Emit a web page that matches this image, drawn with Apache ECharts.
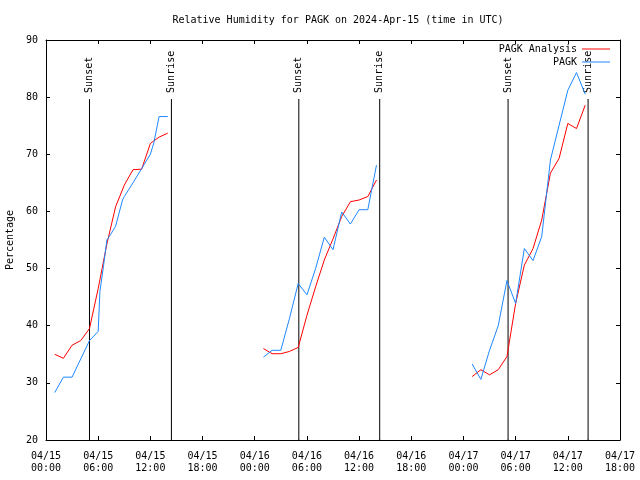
<!DOCTYPE html>
<html>
<head>
<meta charset="utf-8">
<script src="https://cdn.jsdelivr.net/npm/echarts@6/dist/echarts.min.js"></script>
<style>html,body{margin:0;padding:0;background:#fff}#c{width:640px;height:480px}</style>
</head>
<body>
<div id="c"></div>
<script>
// Hours since 04/15 00:00 UTC
const xTickLabels = ['04/15\n00:00','04/15\n06:00','04/15\n12:00','04/15\n18:00','04/16\n00:00','04/16\n06:00','04/16\n12:00','04/16\n18:00','04/17\n00:00','04/17\n06:00','04/17\n12:00','04/17\n18:00'];

// PAGK Analysis (red), hourly
const anaHours1 = [1,2,3,4,5,6,7,8,9,10,11,12,13,14];
const anaValues1 = [35.0,34.3,36.6,37.4,39.5,46.5,54.3,60.8,64.6,67.3,67.4,71.9,73.0,73.7];
const anaHours2 = [25,26,27,28,29,30,31,32,33,34,35,36,37,38];
const anaValues2 = [36.0,35.1,35.1,35.5,36.2,41.8,46.8,51.5,55.2,59.1,61.7,62.0,62.6,65.5];
const anaHours3 = [49,50,51,52,53,54,55,56,57,58,59,60,61,62];
const anaValues3 = [31.1,32.3,31.4,32.3,34.6,43.9,50.6,53.5,58.5,66.7,69.3,75.4,74.5,78.6];

// PAGK observations (blue)
const obsHours1 = [1,2,3,4,5,6,6.2,6.6,7,7.4,8,8.8,9,10,11,12,12.4,13,14];
const obsValues1 = [28.3,31.0,31.0,34.2,37.4,39.0,46.0,50.3,55.0,55.9,57.4,62.0,62.6,65.0,67.5,70.0,72.0,76.6,76.6];
const obsHours2 = [25,26,27,28,29,30,31,32,33,34,35,36,37,38];
const obsValues2 = [34.5,35.7,35.7,41.3,47.4,45.4,50.0,55.5,53.3,59.9,57.8,60.3,60.3,68.1];
const obsHours3 = [49,50,51,52,53,54,55,56,57,58,59,60,61,62];
const obsValues3 = [33.3,30.6,35.7,40.0,47.9,43.9,53.5,51.4,55.6,69.0,75.1,81.2,84.3,80.5];

// Sun events
const sunsetHours = [5.0,29.07,53.13];
const sunriseHours = [14.42,38.37,62.33];
const sunLineBottom = 20;
const sunLineTop = 79.6;

function pairs(hs, vs){ return hs.map((h,i)=>[h, vs[i]]); }
function joinSegs(segs){
  const out = [];
  segs.forEach((s,i)=>{ if(i>0) out.push(['-','-']); s.forEach(p=>out.push(p)); });
  return out;
}
const anaData = joinSegs([pairs(anaHours1,anaValues1),pairs(anaHours2,anaValues2),pairs(anaHours3,anaValues3)]);
const obsData = joinSegs([pairs(obsHours1,obsValues1),pairs(obsHours2,obsValues2),pairs(obsHours3,obsValues3)]);

const sunData = [];
const events = [];
sunsetHours.forEach(h=>events.push([h,'Sunset']));
sunriseHours.forEach(h=>events.push([h,'Sunrise']));
events.sort((a,b)=>a[0]-b[0]);
events.forEach((e,i)=>{
  if(i>0) sunData.push({value:['-','-']});
  sunData.push({value:[e[0], sunLineBottom], label:{show:false}});
  sunData.push({value:[e[0], sunLineTop], label:{show:true, formatter:e[1]}});
});

const font = 'DejaVu Sans Mono';
const chart = echarts.init(document.getElementById('c'), null, {renderer:'canvas'});
const axisCommon = {
  axisLine:{show:true, onZero:false, lineStyle:{color:'#000', width:1}},
  axisTick:{show:true, inside:true, length:4, lineStyle:{color:'#000'}},
  splitLine:{show:false}
};
const legendCommon = {padding:0, align:'right', itemWidth:28, itemHeight:1, icon:'rect',
  textStyle:{fontFamily:font, fontSize:10, color:'#000'}, selectedMode:false};
chart.setOption({
  animation:false,
  backgroundColor:'#fff',
  title:{
    text:'Relative Humidity for PAGK on 2024-Apr-15 (time in UTC)',
    left:333, top:10, textAlign:'center',
    textStyle:{fontFamily:font, fontSize:10, fontWeight:'normal', color:'#000'}
  },
  grid:{left:46, right:20, top:40, bottom:40, containLabel:false, outerBoundsMode:'none'},
  legend:[
    Object.assign({data:['PAGK Analysis'], right:30, top:44}, legendCommon),
    Object.assign({data:['PAGK'], right:30, top:57}, legendCommon)
  ],
  xAxis:[
    Object.assign({type:'value', min:0, max:66, interval:6, position:'bottom',
      axisLabel:{fontFamily:font, fontSize:10, color:'#000', lineHeight:12, margin:10,
        formatter:v=>xTickLabels[Math.round(v/6)]}}, axisCommon),
    Object.assign({type:'value', min:0, max:66, interval:6, position:'top',
      axisLabel:{show:false}}, axisCommon)
  ],
  yAxis:[
    Object.assign({type:'value', min:20, max:90, interval:10, position:'left',
      name:'Percentage', nameLocation:'middle', nameGap:29, nameRotate:90,
      nameTextStyle:{fontFamily:font, fontSize:10, color:'#000'},
      axisLabel:{fontFamily:font, fontSize:10, color:'#000', margin:8}}, axisCommon),
    Object.assign({type:'value', min:20, max:90, interval:10, position:'right',
      axisLabel:{show:false}}, axisCommon)
  ],
  series:[
    {
      name:'sun', type:'line', data:sunData, connectNulls:false,
      symbol:'circle', symbolSize:1, showSymbol:true,
      itemStyle:{color:'#000'},
      lineStyle:{color:'#000', width:1},
      label:{position:'top', distance:6, rotate:90, align:'left', verticalAlign:'middle',
        fontFamily:font, fontSize:10, color:'#000'},
      silent:true, z:1
    },
    {
      name:'PAGK Analysis', type:'line', data:anaData, connectNulls:false,
      showSymbol:false, symbol:'none',
      lineStyle:{color:'#ff0000', width:1}, itemStyle:{color:'#ff0000'}, z:2
    },
    {
      name:'PAGK', type:'line', data:obsData, connectNulls:false,
      showSymbol:false, symbol:'none',
      lineStyle:{color:'#1e88ff', width:1}, itemStyle:{color:'#1e88ff'}, z:3
    }
  ]
});
</script>
</body>
</html>
